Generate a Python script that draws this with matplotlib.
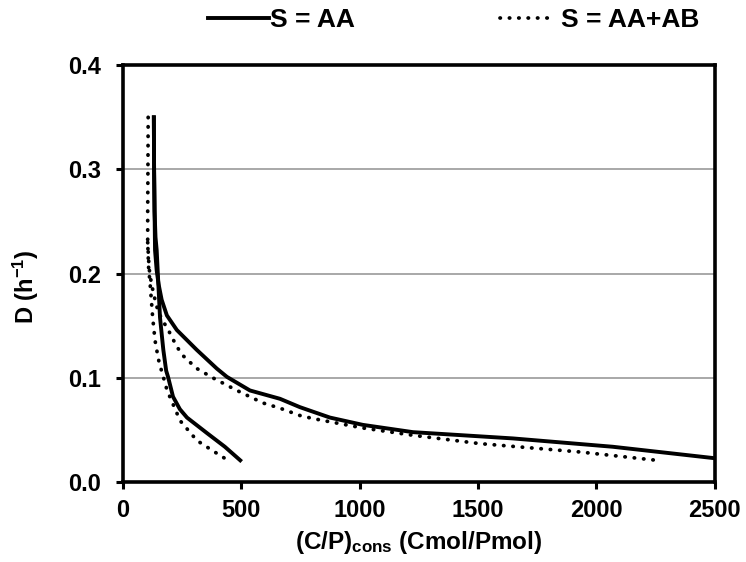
import numpy as np
import matplotlib.pyplot as plt
from matplotlib.lines import Line2D

plt.rcParams['font.family'] = ['Liberation Sans', 'DejaVu Sans']
plt.rcParams['font.weight'] = 'bold'
plt.rcParams['mathtext.fontset'] = 'custom'
plt.rcParams['mathtext.rm'] = 'Liberation Sans:bold'
plt.rcParams['mathtext.bf'] = 'Liberation Sans:bold'
plt.rcParams['mathtext.it'] = 'Liberation Sans:bold'

# S = AA, low branch (top down to x=500)
aa_low_x = [130, 131, 133, 137, 142, 149, 156, 170, 182, 190, 211, 240, 270, 355, 430, 495]
aa_low_d = [0.35, 0.30, 0.26, 0.235, 0.2225, 0.19, 0.158, 0.127, 0.107, 0.101, 0.082, 0.07, 0.062, 0.047, 0.034, 0.021]
# S = AA, high branch
aa_high_x = [130, 131, 133, 135, 142, 150, 163, 185, 227, 311, 396, 439, 536, 663, 747, 874, 1013, 1225, 1647, 2069, 2500]
aa_high_d = [0.35, 0.30, 0.26, 0.2225, 0.203, 0.19, 0.175, 0.160, 0.146, 0.127, 0.109, 0.101, 0.088, 0.080, 0.072, 0.062, 0.055, 0.048, 0.042, 0.034, 0.023]

# S = AA+AB, low branch
ab_low_x = [106, 105, 104, 104, 108, 114, 125, 135, 142, 153, 165, 186, 241, 312, 380, 443]
ab_low_d = [0.35, 0.30, 0.26, 0.23, 0.205, 0.191, 0.158, 0.136, 0.127, 0.114, 0.105, 0.088, 0.059, 0.040, 0.030, 0.021]
# S = AA+AB, high branch
ab_high_x = [104, 110, 120, 135, 149, 170, 191, 227, 255, 283, 312, 380, 481, 591, 663, 747, 803, 1013, 1225, 1508, 1930, 2255]
ab_high_d = [0.23, 0.205, 0.19, 0.175, 0.163, 0.154, 0.146, 0.130, 0.121, 0.115, 0.109, 0.100, 0.088, 0.076, 0.071, 0.064, 0.061, 0.052, 0.045, 0.037, 0.029, 0.021]

fig = plt.figure(figsize=(7.46, 5.62), dpi=100)
ax = fig.add_axes([0.165, 0.142, 0.793, 0.742])

for y in [0.1, 0.2, 0.3]:
    ax.axhline(y, color='#999999', lw=1.2, zorder=0)

solid = dict(color='black', lw=2.8, solid_joinstyle='round')
dot = dict(color='black', lw=2.7, linestyle=(0, (0.1, 2.4)), dash_capstyle='round')
ax.plot(aa_low_x, aa_low_d, **solid)
ax.plot(aa_high_x, aa_high_d, **solid)
ax.plot(ab_low_x, ab_low_d, **dot)
ax.plot(ab_high_x, ab_high_d, **dot)

ax.set_xlim(0, 2500)
ax.set_ylim(0, 0.4)
ax.set_xticks([0, 500, 1000, 1500, 2000, 2500])
ax.set_yticks([0.0, 0.1, 0.2, 0.3, 0.4])
ax.set_yticklabels(['0.0', '0.1', '0.2', '0.3', '0.4'])
for s in ax.spines.values():
    s.set_linewidth(2.6)
ax.tick_params(direction='out', length=5, width=2.2, labelsize=17)
ax.tick_params(axis='x', pad=7)
ax.tick_params(axis='y', pad=11)

ax.set_xlabel(r'(C/P)$_{\mathrm{cons}}$ (Cmol/Pmol)', fontsize=17.5, fontweight='bold', labelpad=5)
ax.set_ylabel(r'D (h$^{\mathrm{-1}}$)', fontsize=17, fontweight='bold')
ax.yaxis.set_label_coords(-0.138, 0.468)

h1 = Line2D([], [], **solid)
h2 = Line2D([], [], **dot)
fig.legend([h1], ['S = AA'], loc='center left', bbox_to_anchor=(208 / 746, 0.964),
           frameon=False, fontsize=19, handlelength=2.3, handletextpad=0.05,
           borderpad=0, borderaxespad=0)
fig.legend([h2], ['S = AA+AB'], loc='center left', bbox_to_anchor=(500 / 746, 0.964),
           frameon=False, fontsize=19, handlelength=2.0, handletextpad=0.3,
           borderpad=0, borderaxespad=0)

fig.savefig('out.png', dpi=100)
